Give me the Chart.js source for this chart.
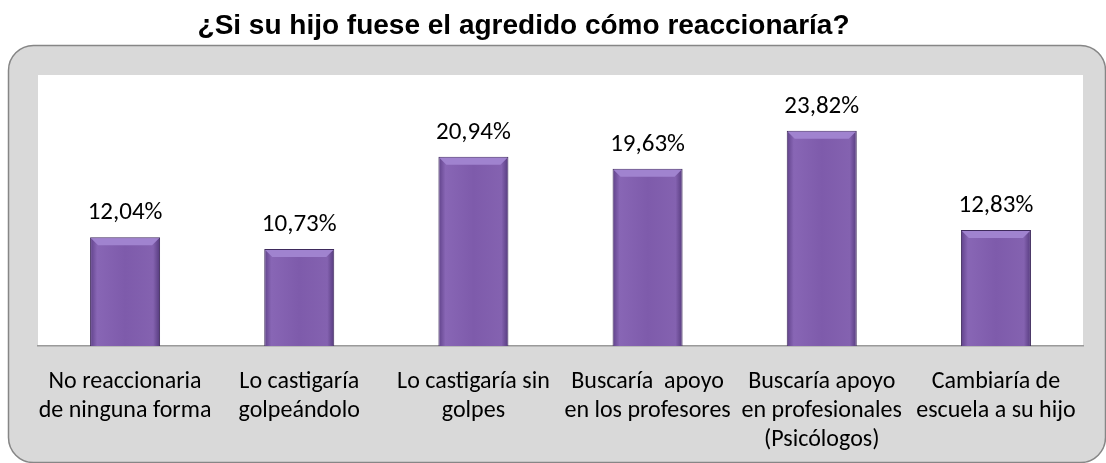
<!DOCTYPE html>
<html>
<head>
<meta charset="utf-8">
<script src="https://cdn.jsdelivr.net/npm/chart.js@4/dist/chart.umd.min.js"></script>
<style>
  html, body { margin: 0; padding: 0; background: #fff; }
  #wrap { width: 1106px; height: 463px; }
</style>
</head>
<body>
<div id="wrap"><canvas id="grafico"></canvas></div>
<script>
// datos
const categorias = [
    ['No reaccionaria', 'de ninguna forma'],
    ['Lo castigaría', 'golpeándolo'],
    ['Lo castigaría sin', 'golpes'],
    ['Buscaría  apoyo', 'en los profesores'],
    ['Buscaría apoyo', 'en profesionales', '(Psicólogos)'],
    ['Cambiaría de', 'escuela a su hijo']
];
const porcentajes = [12.04, 10.73, 20.94, 19.63, 23.82, 12.83];
const titulo = '¿Si su hijo fuese el agredido cómo reaccionaría?';

const fuenteCat = "Carlito, 'Liberation Sans Narrow', 'DejaVu Sans Condensed', sans-serif";

// fondo gris redondeado + área blanca del gráfico
const fondoPlugin = {
    id: 'fondo',
    afterLayout(chart) {
        // el título del original está algo desplazado a la izquierda
        const t = chart.titleBlock;
        if (t) { t.left = 0; t.right = 1047; }
    },
    beforeDraw(chart) {
        const ctx = chart.ctx;
        const area = chart.chartArea;
        ctx.save();
        ctx.beginPath();
        ctx.roundRect(8.5, 45.5, 1097, 417, 25);
        ctx.fillStyle = '#d9d9d9';
        ctx.fill();
        ctx.lineWidth = 1.5;
        ctx.strokeStyle = '#868686';
        ctx.stroke();
        ctx.fillStyle = '#ffffff';
        ctx.fillRect(area.left, area.top, area.right - area.left, area.bottom - area.top);
        ctx.restore();
    }
};

// bisel claro arriba de cada barra + etiquetas de porcentaje
const etiquetasPlugin = {
    id: 'etiquetas',
    afterDatasetsDraw(chart) {
        const ctx = chart.ctx;
        const meta = chart.getDatasetMeta(0);
        ctx.save();
        meta.data.forEach((bar) => {
            const l = bar.x - bar.width / 2 + 1, r = bar.x + bar.width / 2 - 1, t = bar.y + 1;
            ctx.beginPath();
            ctx.moveTo(l, t);
            ctx.lineTo(r, t);
            ctx.lineTo(r - 7, t + 7);
            ctx.lineTo(l + 7, t + 7);
            ctx.closePath();
            ctx.fillStyle = '#a083cf';
            ctx.fill();
        });
        ctx.font = '25px ' + fuenteCat;
        ctx.fillStyle = '#000';
        ctx.textAlign = 'center';
        ctx.textBaseline = 'alphabetic';
        meta.data.forEach((bar, i) => {
            const txt = porcentajes[i].toFixed(2).replace('.', ',') + '%';
            ctx.fillText(txt, bar.x, bar.y - 18);
        });
        ctx.restore();
    }
};

function colorBarra(context) {
    const chart = context.chart;
    const xs = chart.scales && chart.scales.x;
    if (!xs || !chart.chartArea) return '#7e5ca8';
    const cx = xs.getPixelForValue(context.dataIndex);
    if (!isFinite(cx)) return '#7e5ca8';
    const half = 35;
    const g = chart.ctx.createLinearGradient(cx - half, 0, cx + half, 0);
    g.addColorStop(0, '#5f4189');
    g.addColorStop(0.1, '#8866b5');
    g.addColorStop(0.5, '#7e5bab');
    g.addColorStop(0.9, '#8462b0');
    g.addColorStop(1, '#553a7d');
    return g;
}

const ctx = document.getElementById('grafico');
new Chart(ctx, {
    type: 'bar',
    data: {
        labels: categorias,
        datasets: [{
            data: porcentajes,
            backgroundColor: colorBarra,
            borderColor: '#3e2a5c',
            borderWidth: 1,
            categoryPercentage: 0.8,
            barPercentage: 0.5025
        }]
    },
    options: {
        responsive: true,
        maintainAspectRatio: false,
        animation: false,
        layout: {
            padding: { left: 38, right: 23, top: 0, bottom: 0 }
        },
        plugins: {
            legend: { display: false },
            tooltip: { enabled: false },
            title: {
                display: true,
                text: titulo,
                color: '#000',
                font: { family: '"Liberation Sans", Arial, sans-serif', size: 28, weight: 'bold', lineHeight: 1.2 },
                padding: { top: 9, bottom: 32.4 }
            }
        },
        scales: {
            x: {
                grid: { display: false },
                border: { display: true, color: '#9a9a9a', width: 1.5 },
                ticks: {
                    color: '#000',
                    font: { family: fuenteCat, size: 24, lineHeight: 1.2 },
                    padding: 14,
                    maxRotation: 0,
                    autoSkip: false
                },
                afterFit(scale) { scale.height = 117; }
            },
            y: {
                display: false,
                min: 0,
                max: 30
            }
        }
    },
    plugins: [fondoPlugin, etiquetasPlugin]
});
</script>
</body>
</html>
